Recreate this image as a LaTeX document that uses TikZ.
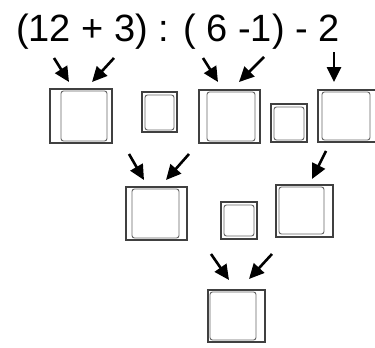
\documentclass[tikz,border=0pt]{standalone}
\usepackage{fontspec}
\setmainfont{Liberation Sans}
\usetikzlibrary{arrows.meta}

\tikzset{
  bigbox/.style={draw=black!75,line width=1.6pt,fill=white,inner sep=0pt},
  innerbox/.style={draw=black!60,line width=0.9pt,rounded corners=2.5pt},
  arr/.style={line width=2.6pt,-{Triangle[width=14pt,length=15pt]}}
}

\begin{document}
\begin{tikzpicture}[x=1pt,y=-1pt]
\useasboundingbox (0,0) rectangle (375,348);

\node [anchor=base west,inner sep=0pt,font=\fontsize{38}{40}\selectfont] (expr) at (16,41) {(12 + 3) : ( 6 -1) - 2};

% first row
\node [bigbox,minimum width=62,minimum height=54] (boxA) at (81,116) {};
\node [bigbox,minimum width=35,minimum height=40] (boxB) at (159.5,112) {};
\node [bigbox,minimum width=61,minimum height=53] (boxC) at (229.5,116.5) {};
\node [bigbox,minimum width=36,minimum height=38] (boxD) at (289,123) {};
\node [bigbox,minimum width=67,minimum height=52] (boxE) at (351.5,116) {};

\draw [innerbox] (61,91) rectangle (107,141);
\draw [innerbox] (145,95) rectangle (174,130);
\draw [innerbox] (207,92) rectangle (255,141);
\draw [innerbox] (274,107) rectangle (304,140);
\draw [innerbox] (322,92) rectangle (370,140);

% second row
\node [bigbox,minimum width=61,minimum height=53] (boxF) at (156.5,213.5) {};
\node [bigbox,minimum width=36,minimum height=37] (boxH) at (239,220.5) {};
\node [bigbox,minimum width=57,minimum height=52] (boxG) at (304.5,211) {};

\draw [innerbox] (132,189) rectangle (179,238);
\draw [innerbox] (224,205) rectangle (254,236);
\draw [innerbox] (279,187) rectangle (324,234);

% last row
\node [bigbox,minimum width=57,minimum height=52] (boxI) at (236.5,316) {};
\draw [innerbox] (210,292) rectangle (256,340);

% arrows
\coordinate (t1) at (54,58);   \coordinate (h1) at (69,82);
\coordinate (t2) at (114,58);  \coordinate (h2) at (92,82);
\coordinate (t3) at (203,58);  \coordinate (h3) at (218,82);
\coordinate (t4) at (264,57);  \coordinate (h4) at (239,82);
\coordinate (t5) at (334,52);  \coordinate (h5) at (334,82);
\coordinate (t6) at (129,154); \coordinate (h6) at (144,180);
\coordinate (t7) at (189,154); \coordinate (h7) at (166,180);
\coordinate (t8) at (326,151); \coordinate (h8) at (312,179);
\coordinate (t9) at (211,254); \coordinate (h9) at (229,280);
\coordinate (t10) at (272,254); \coordinate (h10) at (249,279);

\foreach \i in {1,...,10}
  \draw [arr] (t\i) -- (h\i);

\end{tikzpicture}
\end{document}
